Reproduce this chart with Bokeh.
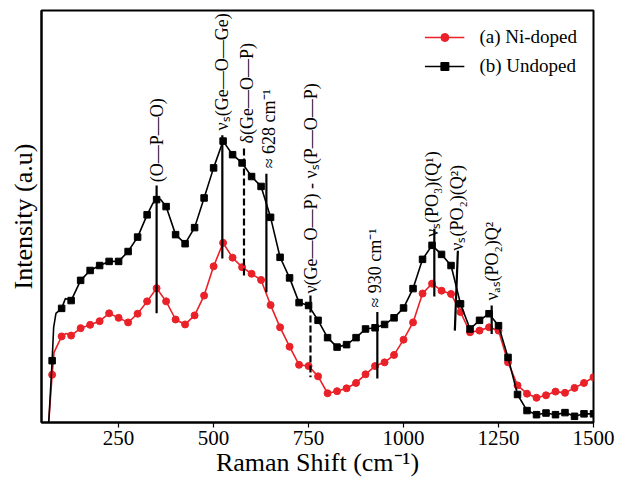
import math
from bokeh.plotting import figure
from bokeh.models import Range1d, ColumnDataSource, Legend, LegendItem, FixedTicker
from bokeh.core.properties import value
from bokeh.embed import file_html
from bokeh.resources import INLINE

# ---------------- data ----------------
undoped_x = [62, 66, 70, 75, 79, 85, 100, 110, 125, 150, 175, 200, 225, 250, 275, 300,
             325, 340, 350, 360, 375, 400, 425, 450, 475, 500, 525, 550, 575, 600, 625,
             650, 675, 700, 725, 750, 775, 800, 825, 850, 875, 900, 925, 950, 975, 1000,
             1025, 1050, 1075, 1100, 1125, 1150, 1175, 1200, 1225, 1250, 1275, 1300, 1325,
             1350, 1375, 1400, 1425, 1450, 1475, 1500]
undoped_y = [-4.4, 0, 6.6, 15.0, 23.1, 26.5, 27.7, 30.1, 29.6, 34.5, 36.9, 38.1, 39.1, 39.1,
             41.5, 45.0, 50.4, 53.2, 54.1, 54.2, 52.4, 45.6, 43.4, 47.3, 54.5, 61.8, 68.3,
             65.0, 63.0, 59.7, 57.3, 49.8, 40.1, 35.1, 29.1, 28.4, 24.8, 20.6, 18.3, 18.9,
             20.6, 22.7, 23.0, 23.8, 25.4, 27.8, 32.5, 39.6, 43.0, 40.8, 38.1, 28.8, 22.7,
             24.8, 26.4, 23.5, 15.8, 6.8, 2.9, 1.9, 2.3, 1.9, 2.4, 1.5, 2.1, 2.1]

nidoped_x = [62, 66, 75, 80, 100, 112, 125, 150, 175, 200, 225, 250, 275, 300, 325, 350,
             375, 400, 425, 450, 475, 500, 525, 550, 575, 600, 625, 650, 675, 700, 725,
             750, 775, 800, 825, 850, 875, 900, 925, 950, 975, 1000, 1025, 1050, 1075,
             1100, 1125, 1150, 1175, 1200, 1225, 1250, 1275, 1300, 1325, 1350, 1375, 1400,
             1425, 1450, 1475, 1500]
nidoped_y = [-4.4, 0, 11.6, 17.0, 20.9, 21.6, 21.1, 22.9, 23.7, 24.6, 26.5, 25.4, 24.3,
             26.4, 29.4, 32.6, 29.4, 25.0, 23.8, 26.0, 30.8, 37.9, 43.6, 40.0, 37.7, 36.1,
             34.6, 28.5, 23.1, 18.4, 14.0, 13.7, 11.2, 7.1, 7.6, 8.3, 9.6, 11.7, 13.7, 14.6,
             16.4, 20.1, 24.3, 31.3, 33.7, 32.0, 31.2, 26.8, 21.9, 22.3, 23.1, 22.3, 14.6,
             9.0, 7.0, 6.0, 6.6, 7.5, 7.2, 8.4, 9.6, 11.0]

marker_step = 25
marker_start = 75

series_labels = ["(a) Ni-doped", "(b) Undoped"]
x_ticks = [250, 500, 750, 1000, 1250, 1500]

# annotation lines (top -> bottom)
ann_x0 = [350, 523, 580, 639, 755, 931, 1081, 1143, 1232]
ann_y0 = [57.5, 69.7, 66.5, 60.4, 30.8, 26.8, 47.0, 41.7, 28.4]
ann_x1 = [350, 523, 580, 639, 755, 931, 1081, 1135, 1232]
ann_y1 = [26.5, 39.8, 35.0, 31.6, 11.0, 10.7, 30.6, 22.3, 21.5]
ann_dashed = [False, False, True, False, True, False, False, False, False]

lab_text = ["(O—P—O)", "νₛ(Ge—O—Ge)", "δ(Ge—O—P)", "≈ 628 cm⁻¹",
            "ν(Ge—O—P) - νₛ(P—O—P)", "≈ 930 cm⁻¹", "νₛ(PO₃)(Q¹)",
            "νₛ(PO₂)(Q²)", "νₐₛ(PO₂)Q²"]
lab_x = [352, 523, 589, 645, 757, 926, 1076, 1141, 1234]
lab_y = [58.3, 70.9, 67.7, 61.7, 31.3, 27.9, 45.0, 41.7, 29.6]

# ---------------- figure ----------------
FONT = "Liberation Serif"
RED = "#ea2128"

p = figure(width=617, height=482, output_backend="svg", toolbar_location=None,
           x_range=Range1d(47, 1500), y_range=Range1d(0, 100),
           min_border_left=41, min_border_right=24, min_border_top=10, min_border_bottom=60)
p.xgrid.visible = False
p.ygrid.visible = False
p.outline_line_color = "black"
p.outline_line_width = 2
p.outline_line_alpha = 1

def markers(xs, ys):
    mx, my = [], []
    for a, b in zip(xs, ys):
        if a >= marker_start and a % marker_step == 0:
            mx.append(a)
            my.append(b)
    return mx, my

ni_mx, ni_my = markers(nidoped_x, nidoped_y)
un_mx, un_my = markers(undoped_x, undoped_y)

r_ni_l = p.line(nidoped_x, nidoped_y, line_color=RED, line_width=1.6)
r_ni_m = p.scatter(ni_mx, ni_my, marker="circle", size=7, fill_color=RED, line_color=RED)
r_un_l = p.line(undoped_x, undoped_y, line_color="black", line_width=1.6)
r_un_m = p.scatter(un_mx, un_my, marker="square", size=6.5, fill_color="black", line_color="black")

# annotation lines
solid = ColumnDataSource(dict(
    x0=[a for a, d in zip(ann_x0, ann_dashed) if not d],
    y0=[a for a, d in zip(ann_y0, ann_dashed) if not d],
    x1=[a for a, d in zip(ann_x1, ann_dashed) if not d],
    y1=[a for a, d in zip(ann_y1, ann_dashed) if not d]))
dashed = ColumnDataSource(dict(
    x0=[a for a, d in zip(ann_x0, ann_dashed) if d],
    y0=[a for a, d in zip(ann_y0, ann_dashed) if d],
    x1=[a for a, d in zip(ann_x1, ann_dashed) if d],
    y1=[a for a, d in zip(ann_y1, ann_dashed) if d]))
p.segment("x0", "y0", "x1", "y1", source=solid, line_color="black", line_width=2.2)
p.segment("x0", "y0", "x1", "y1", source=dashed, line_color="black", line_width=2.2,
          line_dash="7 3")

p.text(x=lab_x, y=lab_y, text=lab_text, angle=math.pi / 2,
       text_align="left", text_baseline="middle",
       text_font=value(FONT), text_font_size="18px", text_color="black")

# axes
p.xaxis.ticker = FixedTicker(ticks=x_ticks)
p.xaxis.minor_tick_line_color = None
p.xaxis.major_tick_in = 0
p.xaxis.major_tick_out = 5
p.xaxis.major_tick_line_width = 1.2
p.xaxis.axis_line_width = 2
p.xaxis.major_label_text_font = FONT
p.xaxis.major_label_text_font_size = "21px"
p.xaxis.major_label_text_color = "black"
p.xaxis.major_label_standoff = 3
p.xaxis.axis_label = "Raman Shift (cm⁻¹)"
p.xaxis.axis_label_text_font = FONT
p.xaxis.axis_label_text_font_size = "26px"
p.xaxis.axis_label_text_font_style = "normal"
p.xaxis.axis_label_text_color = "black"
p.xaxis.axis_label_standoff = 0

p.yaxis.ticker = FixedTicker(ticks=[])
p.yaxis.major_label_text_font_size = "0px"
p.yaxis.minor_tick_line_color = None
p.yaxis.major_tick_line_color = None
p.yaxis.axis_line_width = 2
p.yaxis.axis_label = "Intensity (a.u)"
p.yaxis.axis_label_text_font = FONT
p.yaxis.axis_label_text_font_size = "26px"
p.yaxis.axis_label_text_font_style = "normal"
p.yaxis.axis_label_text_color = "black"
p.yaxis.axis_label_standoff = 4

legend = Legend(items=[LegendItem(label=series_labels[0], renderers=[r_ni_l, r_ni_m]),
                       LegendItem(label=series_labels[1], renderers=[r_un_l, r_un_m])],
                location="top_right")
legend.border_line_alpha = 0
legend.background_fill_alpha = 0
legend.label_text_font = FONT
legend.label_text_font_size = "19px"
legend.label_text_color = "black"
legend.glyph_width = 40
legend.glyph_height = 20
legend.label_height = 20
legend.label_standoff = 15
legend.spacing = 7
legend.padding = 7
legend.margin = 9
p.add_layout(legend)

open("out.html", "w").write(file_html(p, INLINE))
